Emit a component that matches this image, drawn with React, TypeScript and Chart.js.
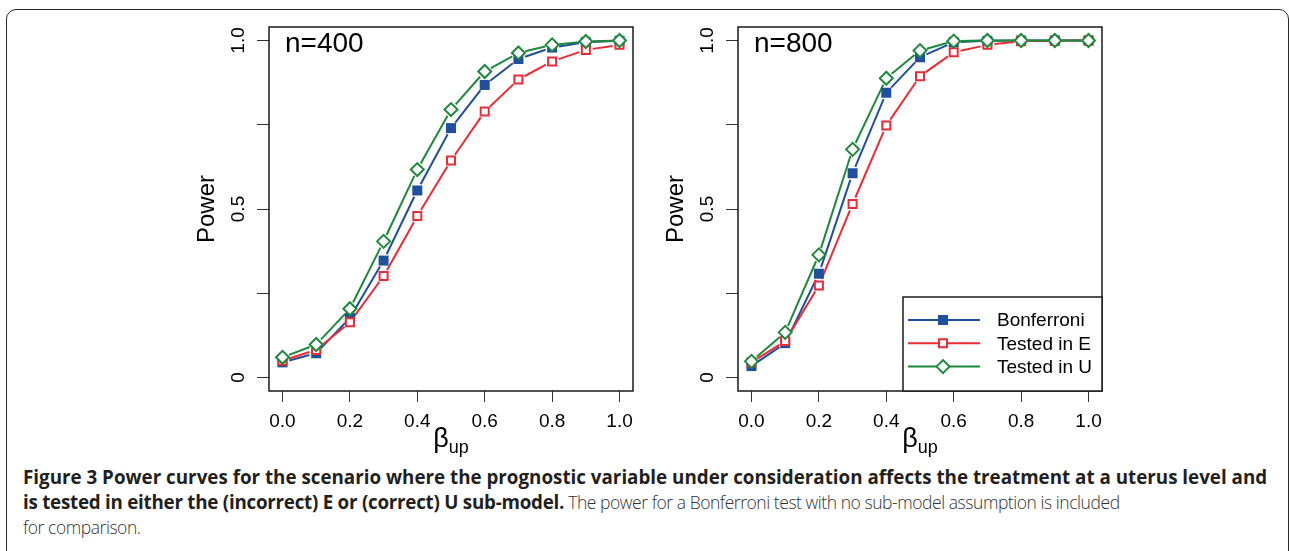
import React, { useEffect, useRef } from "react";
import { Chart, registerables } from "chart.js";

Chart.register(...registerables);

// ---- data ----
const betaValues = [0, 0.1, 0.2, 0.3, 0.4, 0.5, 0.6, 0.7, 0.8, 0.9, 1.0];

const bonferroni400 = [0.045, 0.072, 0.177, 0.347, 0.555, 0.74, 0.868, 0.945, 0.979, 0.995, 0.999];
const testedE400 = [0.05, 0.082, 0.164, 0.301, 0.479, 0.644, 0.789, 0.884, 0.938, 0.972, 0.987];
const testedU400 = [0.06, 0.098, 0.204, 0.404, 0.617, 0.795, 0.908, 0.963, 0.987, 0.997, 1.0];

const bonferroni800 = [0.034, 0.102, 0.308, 0.606, 0.845, 0.95, 0.995, 0.999, 1.0, 1.0, 1.0];
const testedE800 = [0.045, 0.108, 0.273, 0.515, 0.748, 0.894, 0.965, 0.987, 0.998, 0.999, 1.0];
const testedU800 = [0.048, 0.134, 0.364, 0.677, 0.888, 0.97, 0.998, 1.0, 1.0, 1.0, 1.0];

const xTicks = [0, 0.2, 0.4, 0.6, 0.8, 1.0];
const xTickLabels = ["0.0", "0.2", "0.4", "0.6", "0.8", "1.0"];
const yTicks = [0, 0.25, 0.5, 0.75, 1.0];
const yTickLabels = ["0", "", "0.5", "", "1.0"];

const seriesLabels = ["Bonferroni", "Tested in E", "Tested in U"];
const seriesColors = ["#1f4f9f", "#ec2b36", "#1c8a3b"];
const panelLabels = ["n=400", "n=800"];
const yTitle = "Power";
const xTitleMain = "β";
const xTitleSub = "up";

const FONT = "'Liberation Sans', Arial, Helvetica, sans-serif";
const GAP = 7;

function drawMarker(ctx: CanvasRenderingContext2D, i: number, x: number, y: number) {
  ctx.save();
  ctx.lineWidth = 2;
  ctx.strokeStyle = seriesColors[i];
  ctx.fillStyle = seriesColors[i];
  ctx.beginPath();
  if (i === 0) {
    ctx.rect(x - 5, y - 5, 10, 10);
    ctx.fill();
  } else if (i === 1) {
    ctx.rect(x - 4, y - 4, 8, 8);
    ctx.fillStyle = "#fff";
    ctx.fill();
    ctx.stroke();
  } else {
    ctx.moveTo(x - 6.5, y);
    ctx.lineTo(x, y - 6.5);
    ctx.lineTo(x + 6.5, y);
    ctx.lineTo(x, y + 6.5);
    ctx.closePath();
    ctx.fillStyle = "#fff";
    ctx.fill();
    ctx.stroke();
  }
  ctx.restore();
}

function Panel(props: { series: number[][]; label: string; showLegend: boolean; left: number }) {
  const ref = useRef<HTMLCanvasElement | null>(null);
  useEffect(() => {
    if (!ref.current) return;
    const { series, label, showLegend } = props;
    const plugin = {
      id: "rstyle",
      beforeDatasetsDraw(chart: any) {
        const ctx = chart.ctx as CanvasRenderingContext2D;
        chart.data.datasets.forEach((ds: any, i: number) => {
          const meta = chart.getDatasetMeta(i);
          ctx.save();
          ctx.strokeStyle = ds.borderColor;
          ctx.lineWidth = 2;
          for (let k = 0; k < meta.data.length - 1; k++) {
            const a = meta.data[k];
            const b = meta.data[k + 1];
            const dx = b.x - a.x;
            const dy = b.y - a.y;
            const len = Math.hypot(dx, dy);
            if (len <= 2 * GAP) continue;
            const ux = dx / len;
            const uy = dy / len;
            ctx.beginPath();
            ctx.moveTo(a.x + ux * GAP, a.y + uy * GAP);
            ctx.lineTo(b.x - ux * GAP, b.y - uy * GAP);
            ctx.stroke();
          }
          ctx.restore();
        });
      },
      afterDraw(chart: any) {
        const ctx = chart.ctx as CanvasRenderingContext2D;
        const area = chart.chartArea;
        const ys = chart.scales.y;
        ctx.save();
        // box
        ctx.strokeStyle = "#1a1a1a";
        ctx.lineWidth = 1.5;
        ctx.strokeRect(area.left, area.top, area.right - area.left, area.bottom - area.top);
        // y tick labels (rotated, R style)
        ctx.fillStyle = "#000";
        ctx.font = `19px ${FONT}`;
        ctx.textAlign = "center";
        ctx.textBaseline = "middle";
        yTicks.forEach((v, i) => {
          const t = yTickLabels[i];
          if (!t) return;
          const py = ys.getPixelForValue(v);
          ctx.save();
          ctx.translate(area.left - 30, py);
          ctx.rotate(-Math.PI / 2);
          ctx.fillText(t, 0, 0);
          ctx.restore();
        });
        // x title with subscript
        ctx.textAlign = "left";
        ctx.textBaseline = "alphabetic";
        ctx.font = `27px ${FONT}`;
        const wb = ctx.measureText(xTitleMain).width;
        ctx.font = `18px ${FONT}`;
        const ws = ctx.measureText(xTitleSub).width;
        const cx = (area.left + area.right) / 2;
        const x0 = cx - (wb + ws) / 2;
        ctx.font = `27px ${FONT}`;
        ctx.fillText(xTitleMain, x0, area.bottom + 56);
        ctx.font = `18px ${FONT}`;
        ctx.fillText(xTitleSub, x0 + wb, area.bottom + 62);
        // panel label
        ctx.font = `28px ${FONT}`;
        ctx.fillText(label, area.left + 16, area.top + 25);
        // legend
        if (showLegend) {
          const lx = area.right - 199;
          const ly = area.top + 270;
          ctx.fillStyle = "#fff";
          ctx.fillRect(lx, ly, area.right - lx, area.bottom - ly);
          ctx.strokeStyle = "#1a1a1a";
          ctx.lineWidth = 1.5;
          ctx.strokeRect(lx, ly, area.right - lx, area.bottom - ly);
          seriesLabels.forEach((s, i) => {
            const yy = ly + 23 + i * 23.3;
            ctx.strokeStyle = seriesColors[i];
            ctx.lineWidth = 2;
            ctx.beginPath();
            ctx.moveTo(lx + 5, yy);
            ctx.lineTo(lx + 77, yy);
            ctx.stroke();
            drawMarker(ctx, i, lx + 40, yy);
            ctx.fillStyle = "#000";
            ctx.font = `19px ${FONT}`;
            ctx.textBaseline = "middle";
            ctx.fillText(s, lx + 94, yy + 1);
          });
        }
        ctx.restore();
      },
    };

    const datasets = seriesLabels.map((s, i) => ({
      label: s,
      data: betaValues.map((x, j) => ({ x, y: series[i][j] })),
      showLine: false,
      borderColor: seriesColors[i],
      backgroundColor: i === 0 ? seriesColors[i] : "#ffffff",
      pointBackgroundColor: i === 0 ? seriesColors[i] : "#ffffff",
      pointBorderColor: seriesColors[i],
      pointStyle: i === 2 ? "rectRot" : "rect",
      pointRadius: i === 0 ? 7.07 : i === 1 ? 5.66 : 6.5,
      pointBorderWidth: i === 0 ? 0 : 2,
      order: 2 - i,
    }));

    const chart = new Chart(ref.current, {
      type: "scatter",
      data: { datasets },
      plugins: [plugin],
      options: {
        animation: false,
        responsive: false,
        maintainAspectRatio: false,
        layout: { padding: { top: 15, right: 12, left: 0, bottom: 0 } },
        plugins: { legend: { display: false }, tooltip: { enabled: false } },
        scales: {
          x: {
            type: "linear",
            min: -0.04,
            max: 1.04,
            afterBuildTicks: (s: any) => {
              s.ticks = xTicks.map((v) => ({ value: v }));
            },
            afterFit: (s: any) => {
              s.height = 71;
            },
            ticks: {
              callback: (_v: any, i: number) => xTickLabels[i],
              font: { size: 19, family: FONT },
              color: "#000",
              padding: 8,
              maxRotation: 0,
              autoSkip: false,
            },
            grid: { drawOnChartArea: false, drawTicks: true, tickLength: 11, color: "#333", lineWidth: 1 },
            border: { display: false },
          },
          y: {
            type: "linear",
            min: -0.04,
            max: 1.04,
            afterBuildTicks: (s: any) => {
              s.ticks = yTicks.map((v) => ({ value: v }));
            },
            afterFit: (s: any) => {
              s.width = 84;
            },
            ticks: { display: false },
            grid: { drawOnChartArea: false, drawTicks: true, tickLength: 12, color: "#333", lineWidth: 1 },
            border: { display: false },
            title: {
              display: true,
              text: yTitle,
              font: { size: 24, family: FONT },
              color: "#000",
              padding: { top: 8, bottom: 0 },
            },
          },
        },
      },
    } as any);
    return () => chart.destroy();
  }, []);
  return (
    <canvas
      ref={ref}
      width={460}
      height={450}
      style={{ position: "absolute", left: props.left, top: 12, width: 460, height: 450 }}
    />
  );
}

export default function App() {
  return (
    <div
      style={{
        position: "absolute",
        left: 0,
        top: 0,
        width: 1289,
        height: 551,
        overflow: "hidden",
        background: "#fff",
      }}
    >
      <div
        style={{
          position: "absolute",
          left: 6,
          top: 9,
          width: 1283,
          height: 600,
          border: "1.5px solid #2a2a2a",
          borderRadius: 10,
          boxSizing: "border-box",
        }}
      />
      <Panel series={[bonferroni400, testedE400, testedU400]} label={panelLabels[0]} showLegend={false} left={185} />
      <Panel series={[bonferroni800, testedE800, testedU800]} label={panelLabels[1]} showLegend={true} left={654} />
      <div
        style={{
          position: "absolute",
          left: 23,
          top: 465,
          fontFamily: "'Open Sans', sans-serif",
          fontSize: 18.8,
          lineHeight: "25px",
          color: "#231f20",
          whiteSpace: "nowrap",
        }}
      >
        <div style={{ fontWeight: 700 }}>
          Figure 3 Power curves for the scenario where the prognostic variable under consideration affects the
          treatment at a uterus level and
        </div>
        <div>
          <span style={{ fontWeight: 700, letterSpacing: -0.25 }}>
            is tested in either the (incorrect) E or (correct) U sub-model.
          </span>
          <span style={{ fontWeight: 300, color: "#333", fontSize: 17.5, letterSpacing: -0.45 }}>
            {" "}
            The power for a Bonferroni test with no sub-model assumption is included
          </span>
        </div>
        <div style={{ fontWeight: 300, color: "#333", fontSize: 17.5, letterSpacing: -0.45 }}>for comparison.</div>
      </div>
    </div>
  );
}
